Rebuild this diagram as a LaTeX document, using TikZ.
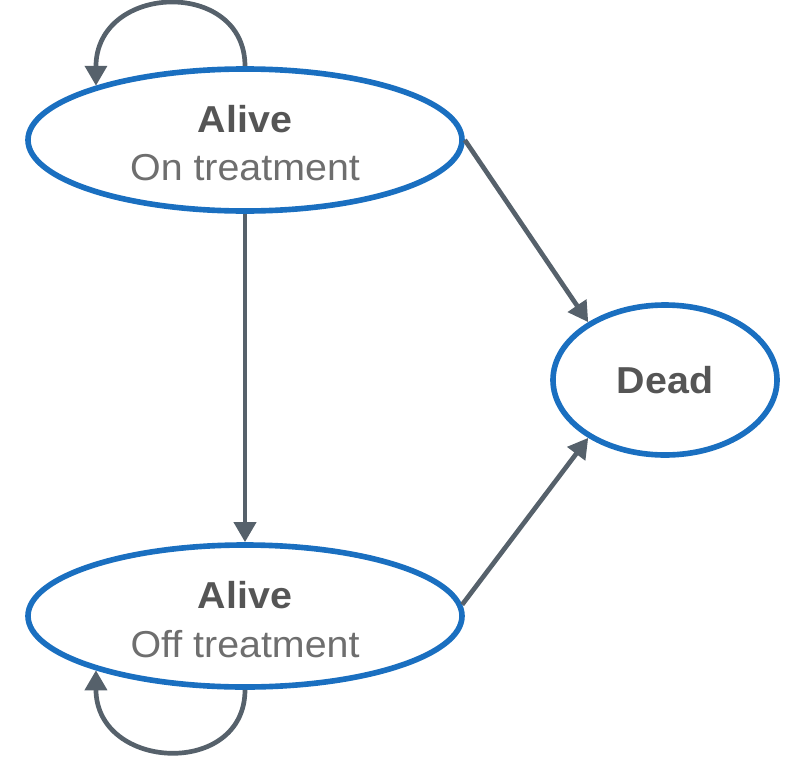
\documentclass[tikz,border=0pt]{standalone}
\usepackage{fontspec}
\setmainfont{Liberation Sans}
\usetikzlibrary{shapes.geometric,arrows.meta}
\definecolor{stateblue}{HTML}{1A6FC0}
\definecolor{arrowgrey}{HTML}{56616B}
\definecolor{textdark}{HTML}{555555}
\definecolor{textlight}{HTML}{6E6E6E}
\newcommand{\wide}[1]{\scalebox{1.05}[1]{#1}}
\begin{document}
\begin{tikzpicture}[x=0.03cm, y=-0.03cm,
    state/.style={draw=stateblue, line width=4.8pt, ellipse, fill=white, inner sep=0pt},
    trans/.style={draw=arrowgrey, line width=4pt, -{Triangle[length=0.6cm, width=0.65cm]}},
    bigtext/.style={font=\fontsize{32}{44}\selectfont, align=center}]
    \useasboundingbox (0,0) rectangle (788,756);
    \node[state, minimum width=13.02cm, minimum height=4.26cm] (on) at (245,140) {};
    \node[bigtext, text=textdark] at (245,119) {\wide{\textbf{Alive}}};
    \node[bigtext, text=textlight] at (245,168) {\wide{On treatment}};
    \node[state, minimum width=13.02cm, minimum height=4.26cm] (off) at (245,616) {};
    \node[bigtext, text=textdark] at (245,595) {\wide{\textbf{Alive}}};
    \node[bigtext, text=textlight] at (245,644) {\wide{Off treatment}};
    \node[state, minimum width=6.72cm, minimum height=4.5cm] (dead) at (665,380) {};
    \node[bigtext, text=textdark] at (665,380) {\wide{\textbf{Dead}}};
    % transitions
    \draw[trans] (on.east) -- (dead.143);
    \draw[trans] (on.south) -- (off.north);
    \draw[trans] (off.3) -- (dead.217);
    % stay in state
    \draw[trans] (on.north) .. controls +(0,-88) and +(0,-103) .. (on.160);
    \draw[trans] (off.south) .. controls +(0,88) and +(0,101) .. (off.200);
\end{tikzpicture}
\end{document}
